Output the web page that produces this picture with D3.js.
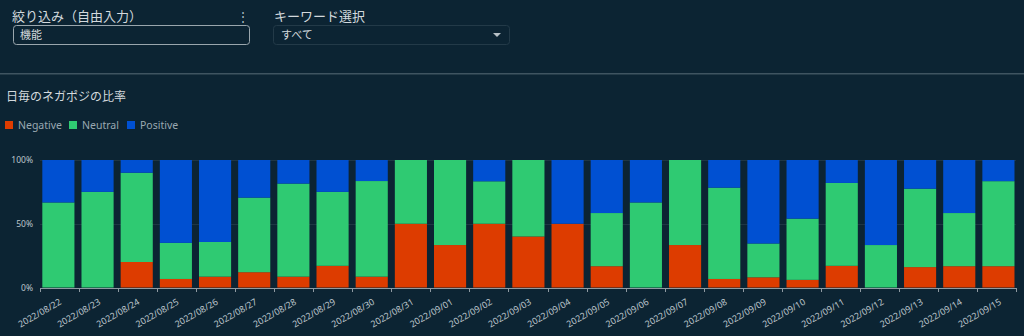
<!DOCTYPE html>
<html><head><meta charset="utf-8">
<script src="https://cdn.jsdelivr.net/npm/d3@7"></script>
<style>
html,body{margin:0;padding:0;background:#0c2433;}
svg{display:block;}
text{font-family:"Noto Sans","Noto Sans CJK JP",sans-serif;}
</style></head><body>
<svg id="c" width="1024" height="336"></svg>
<script>
const dates = ["2022/08/22","2022/08/23","2022/08/24","2022/08/25","2022/08/26","2022/08/27","2022/08/28","2022/08/29","2022/08/30","2022/08/31","2022/09/01","2022/09/02","2022/09/03","2022/09/04","2022/09/05","2022/09/06","2022/09/07","2022/09/08","2022/09/09","2022/09/10","2022/09/11","2022/09/12","2022/09/13","2022/09/14","2022/09/15"];
const negative = [0,0,20,6.7,8.5,12,8.5,17,8.5,50,33.3,50,40,50,16.7,0,33.3,6.7,8,6,17,0,16,16.7,16.7];
const neutral  = [66.7,75,70,28.3,27.2,58.5,73,58,75,50,66.7,33.3,60,0,41.7,66.7,66.7,71.6,26.5,48,65,33.3,61.5,41.7,66.7];
const positive = [33.3,25,10,65,64.3,29.5,18.5,25,16.5,0,0,16.7,0,50,41.6,33.3,0,21.7,65.5,46,18,66.7,22.5,41.6,16.6];
const seriesNames = ["Negative","Neutral","Positive"];
const seriesColors = ["#dd3c00","#2fca72","#0050d2"];
const yTicks = [0,50,100];

const svg = d3.select("#c");

// ---- filter controls ----
const ctl = svg.append("g");
ctl.append("text").attr("x",12).attr("y",21).attr("fill","#d3d9dd").attr("font-size",13)
  .attr("font-family","'Noto Sans CJK JP',sans-serif").text("絞り込み（自由入力）");
ctl.append("text").attr("x",243).attr("y",21).attr("fill","#b7c1c7").attr("font-size",12)
  .attr("text-anchor","middle").text("⋮");
ctl.append("rect").attr("x",13.5).attr("y",25.5).attr("width",236).attr("height",19).attr("rx",3)
  .attr("fill","none").attr("stroke","#9aa6ad").attr("stroke-width",1);
ctl.append("text").attr("x",20).attr("y",39).attr("fill","#d3d9dd").attr("font-size",11)
  .attr("font-family","'Noto Sans CJK JP',sans-serif").text("機能");
ctl.append("text").attr("x",274).attr("y",21).attr("fill","#d3d9dd").attr("font-size",13)
  .attr("font-family","'Noto Sans CJK JP',sans-serif").text("キーワード選択");
ctl.append("rect").attr("x",273.5).attr("y",25.5).attr("width",236).attr("height",19).attr("rx",3)
  .attr("fill","none").attr("stroke","#233a48").attr("stroke-width",1);
ctl.append("text").attr("x",281).attr("y",39).attr("fill","#d3d9dd").attr("font-size",11)
  .attr("font-family","'Noto Sans CJK JP',sans-serif").text("すべて");
ctl.append("path").attr("d","M493,33 L501,33 L497,37 Z").attr("fill","#b7c1c7");
svg.append("rect").attr("x",0).attr("y",73).attr("width",1024).attr("height",1.5).attr("fill","#3f5461");

// ---- title & legend ----
svg.append("text").attr("x",6).attr("y",101).attr("fill","#d3d9dd").attr("font-size",12)
  .attr("font-family","'Noto Sans CJK JP',sans-serif").text("日毎のネガポジの比率");
const legX = [5,69,127];
const leg = svg.append("g").selectAll("g").data(seriesNames).join("g")
  .attr("transform",(d,i)=>`translate(${legX[i]},121)`);
leg.append("rect").attr("width",8).attr("height",8).attr("fill",(d,i)=>seriesColors[i]);
leg.append("text").attr("x",13).attr("y",8).attr("fill","#9aa8b1").attr("font-size",10.5).text(d=>d);

// ---- chart ----
const y = d3.scaleLinear().domain([0,100]).range([287.5,160]);
const x = d3.scaleBand().domain(dates).range([38.4,1018.4]).paddingInner(0.18).paddingOuter(0.1);
const xb = d3.scaleLinear().domain([0,dates.length]).range([40,1016]);

const grid = svg.append("g");
grid.selectAll("line").data([50,100]).join("line")
  .attr("x1",40).attr("x2",1016).attr("y1",d=>Math.round(y(d))+0.5).attr("y2",d=>Math.round(y(d))+0.5)
  .attr("stroke","#1f3644").attr("stroke-width",1);
svg.append("g").selectAll("text").data(yTicks).join("text")
  .attr("x",33).attr("y",d=>y(d)+3).attr("text-anchor","end").attr("fill","#bcc5cb").attr("font-size",8.5)
  .text(d=>d+"%");

const rows = dates.map((d,i)=>({date:d,Negative:negative[i],Neutral:neutral[i],Positive:positive[i]}));
const stack = d3.stack().keys(seriesNames).offset(d3.stackOffsetExpand);
const layers = stack(rows);
svg.append("g").selectAll("g").data(layers).join("g").attr("fill",(d,i)=>seriesColors[i])
  .selectAll("rect").data(d=>d).join("rect")
  .attr("x",d=>x(d.data.date)).attr("width",x.bandwidth())
  .attr("y",d=>y(d[1]*100)).attr("height",d=>Math.max(0,y(d[0]*100)-y(d[1]*100)));

// x axis
const ax = svg.append("g");
ax.append("line").attr("x1",40).attr("x2",1016).attr("y1",288.5).attr("y2",288.5).attr("stroke","#8e9aa2");
ax.selectAll("line.t").data(d3.range(dates.length+1)).join("line").attr("class","t")
  .attr("x1",d=>Math.round(xb(d))+0.5).attr("x2",d=>Math.round(xb(d))+0.5)
  .attr("y1",288).attr("y2",292).attr("stroke","#8e9aa2");
ax.selectAll("text").data(dates).join("text")
  .attr("transform",d=>`translate(${x(d)+x.bandwidth()/2+2},301) rotate(-30)`)
  .attr("text-anchor","end").attr("dy","0.35em").attr("fill","#bcc5cb").attr("font-size",9)
  .text(d=>d);
</script>
</body></html>
